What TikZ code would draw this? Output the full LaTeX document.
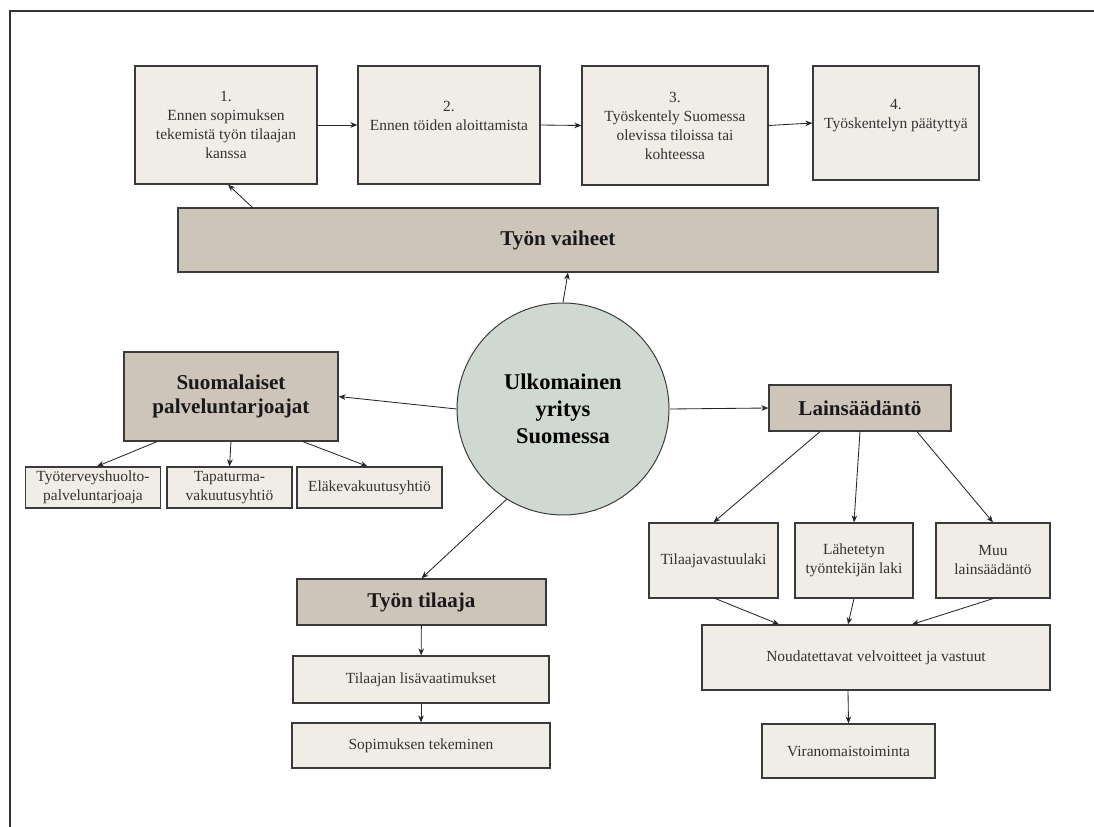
\documentclass[tikz,border=0pt]{standalone}
\usepackage{fontspec}
\setmainfont{Liberation Serif}
\usetikzlibrary{calc,arrows.meta}

\def\px{0.025cm}
\definecolor{lightbox}{HTML}{F0EDE7}
\definecolor{darkbox}{HTML}{CDC4BA}
\definecolor{roundbox}{HTML}{CFD9D1}
\definecolor{edge}{HTML}{3A3A3A}
\definecolor{txt}{HTML}{333333}

\tikzset{
  smallbox/.style={draw=edge, line width=0.9pt, fill=lightbox, text=txt, align=center,
    font=\fontsize{11}{13.5}\selectfont, inner sep=2pt},
  mainbox/.style={draw=edge, line width=0.9pt, fill=darkbox, text=black!90, align=center,
    font=\fontsize{15}{17}\selectfont\bfseries, inner sep=2pt},
  conn/.style={-{Stealth[length=5pt,width=4pt]}, line width=0.6pt, draw=black!85}
}

\begin{document}
\begin{tikzpicture}[x=\px, y=-\px]
          \useasboundingbox (0,0) rectangle (1094,827);
          \draw[line width=1.1pt, draw=black!80] (10,827) -- (10,11) -- (1094,11);
          % vaiheet
          \node[smallbox, minimum width=182*\px, minimum height=118*\px] (step1) at (226,125) {1.\\Ennen sopimuksen\\tekemistä työn tilaajan\\kanssa};
          \node[smallbox, minimum width=182*\px, minimum height=118*\px] (step2) at (449,125) {2.\\Ennen töiden aloittamista\\~};
          \node[smallbox, minimum width=186*\px, minimum height=119*\px] (step3) at (675,125.5) {3.\\Työskentely Suomessa\\olevissa tiloissa tai\\kohteessa};
          \node[smallbox, minimum width=166*\px, minimum height=114*\px] (step4) at (896,123) {4.\\Työskentelyn päätyttyä\\~};
          \node[mainbox, minimum width=760*\px, minimum height=64*\px] (vaiheet) at (558,240) {Työn vaiheet};
          %
          \node[circle, draw=edge, line width=0.7pt, fill=roundbox, minimum size=212*\px, inner sep=0pt,
            align=center, font=\fontsize{16}{19}\selectfont\bfseries] (yritys) at (563,409) {Ulkomainen\\yritys\\Suomessa};
          % palveluntarjoajat
          \node[mainbox, minimum width=214*\px, minimum height=89*\px] (palvelu) at (231,396.5) {Suomalaiset\\palveluntarjoajat};
          \node[smallbox, minimum width=135*\px, minimum height=41*\px] (terveys) at (93,487.5) {Työterveyshuolto-\\palveluntarjoaja};
          \node[smallbox, minimum width=125*\px, minimum height=41*\px] (tapaturma) at (229.5,487.5) {Tapaturma-\\vakuutusyhtiö};
          \node[smallbox, minimum width=145*\px, minimum height=41*\px] (elake) at (369.5,487.5) {Eläkevakuutusyhtiö};
          % lainsäädäntö
          \node[mainbox, minimum width=182*\px, minimum height=46*\px] (laki) at (860,408) {Lainsäädäntö};
          \node[smallbox, minimum width=129*\px, minimum height=75*\px] (vastuulaki) at (713.5,560.5) {Tilaajavastuulaki};
          \node[smallbox, minimum width=118*\px, minimum height=75*\px] (lahetetty) at (854,560.5) {Lähetetyn\\työntekijän laki};
          \node[smallbox, minimum width=114*\px, minimum height=75*\px] (muulaki) at (993,560.5) {Muu\\lainsäädäntö};
          \node[smallbox, minimum width=348*\px, minimum height=65*\px] (velvoite) at (876,657.5) {Noudatettavat velvoitteet ja vastuut};
          \node[smallbox, minimum width=173*\px, minimum height=54*\px] (viranomainen) at (848.5,751) {Viranomaistoiminta};
          % tilaaja
          \node[mainbox, minimum width=249*\px, minimum height=46*\px] (tilaaja) at (421.5,602) {Työn tilaaja};
          \node[smallbox, minimum width=256*\px, minimum height=47*\px] (lisavaatimus) at (421,679.5) {Tilaajan lisävaatimukset};
          \node[smallbox, minimum width=258*\px, minimum height=45*\px] (sopimus) at (421,745.5) {Sopimuksen tekeminen};
          %
          \draw[conn] (step1) -- (step2);
          \draw[conn] (step2.east) -- (step3.west);
          \draw[conn] (step3.east) -- (step4.west);
          \draw[conn] ($(vaiheet.north west)+(75,0)$) -- ($(step1.south)+(2,0)$);
          \draw[conn] (yritys.north) -- ($(vaiheet.south)+(10,0)$);
          \draw[conn] (yritys.west) -- (palvelu.east);
          \draw[conn] ($(palvelu.south)+(-74,0)$) -- ($(terveys.north)+(4,0)$);
          \draw[conn] (palvelu.south) -- (tapaturma.north);
          \draw[conn] ($(palvelu.south)+(72,0)$) -- ($(elake.north)+(-2,0)$);
          \draw[conn] (yritys.east) -- (laki.west);
          \draw[conn] ($(laki.south)+(-40,0)$) -- (vastuulaki.north);
          \draw[conn] (laki.south) -- (lahetetty.north);
          \draw[conn] ($(laki.south)+(57,0)$) -- (muulaki.north);
          \draw[conn] ($(vastuulaki.south)+(2,0)$) -- ($(velvoite.north)+(-97,0)$);
          \draw[conn] (lahetetty.south) -- ($(velvoite.north)+(-28,0)$);
          \draw[conn] (muulaki.south) -- ($(velvoite.north)+(36,0)$);
          \draw[conn] ($(velvoite.south)+(-28,0)$) -- (viranomainen.north);
          \draw[conn] (yritys.238) -- (tilaaja.north);
          \draw[conn] (tilaaja) -- (lisavaatimus);
          \draw[conn] (lisavaatimus) -- (sopimus);
        \end{tikzpicture}
\end{document}
